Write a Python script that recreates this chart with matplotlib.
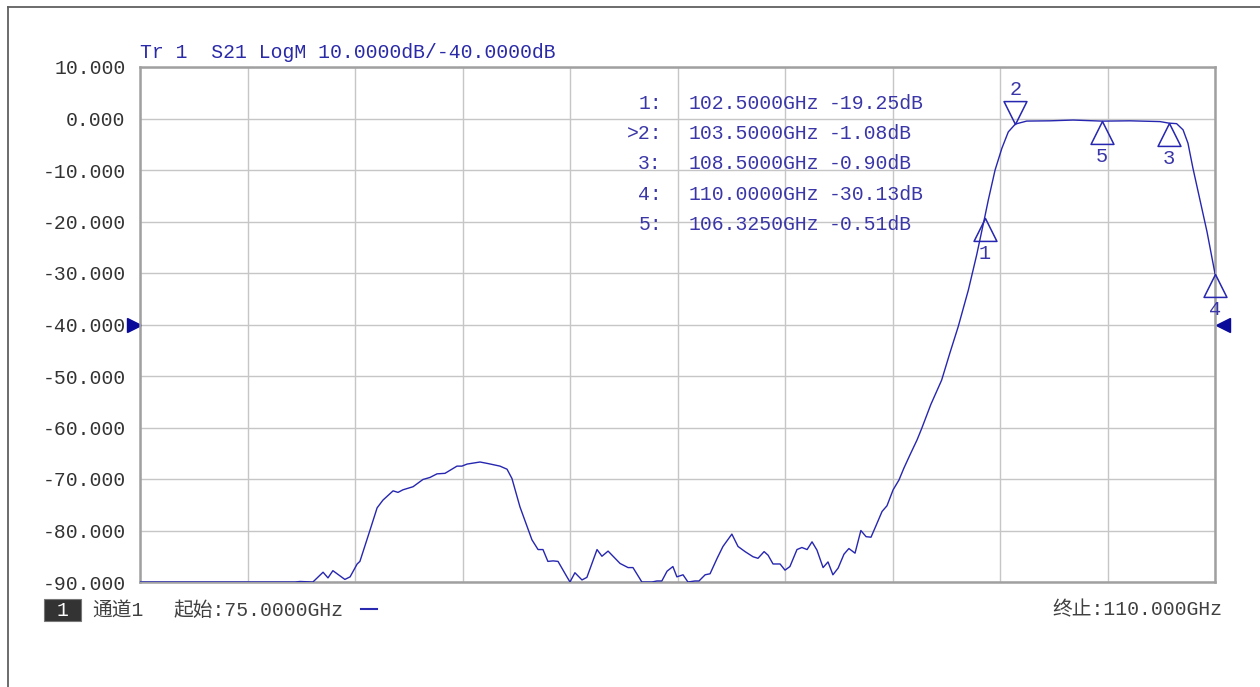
import matplotlib
matplotlib.use("Agg")
import matplotlib.pyplot as plt
from matplotlib.lines import Line2D
from matplotlib.path import Path
from matplotlib.patches import Rectangle

# S21 trace (GHz, dB)
freq_ghz = [75.0, 80.05, 80.21, 80.63, 80.96, 81.12, 81.28, 81.67, 81.84, 82.07,
            82.16, 82.49, 82.72, 82.91, 83.24, 83.40, 83.56, 83.89, 84.21, 84.44,
            84.67, 84.93, 85.32, 85.48, 85.65, 86.07, 86.33, 86.72, 86.95, 87.11,
            87.37, 87.76, 87.96, 88.12, 88.28, 88.45, 88.61, 88.90, 89.00, 89.16,
            89.39, 89.55, 89.88, 90.04, 90.24, 90.63, 90.89, 91.05, 91.34, 91.67,
            91.83, 91.99, 92.16, 92.35, 92.48, 92.68, 92.84, 93.07, 93.20, 93.40,
            93.56, 93.79, 93.98, 94.27, 94.47, 94.70, 94.96, 95.12, 95.32, 95.45,
            95.61, 95.84, 96.00, 96.16, 96.39, 96.55, 96.72, 96.88, 97.04, 97.24,
            97.40, 97.56, 97.73, 97.92, 98.08, 98.28, 98.47, 98.64, 98.80, 98.96,
            99.16, 99.32, 99.52, 99.71, 99.87, 100.07, 100.30, 100.45, 100.75, 101.10,
            101.37, 101.64, 101.97, 102.24, 102.50, 102.62, 102.84, 103.06, 103.27, 103.50,
            103.87, 104.63, 105.38, 106.33, 107.23, 108.21, 108.50, 108.75, 108.96, 109.12,
            109.28, 109.51, 109.74, 110.0]
s21_db = [-90.0, -90.0, -89.9, -90.0, -88.1, -89.2, -87.8, -89.5, -89.0, -86.5,
          -86.0, -79.9, -75.6, -74.1, -72.3, -72.6, -72.1, -71.5, -70.1, -69.7,
          -69.0, -68.9, -67.5, -67.5, -67.1, -66.7, -67.0, -67.5, -68.1, -69.9,
          -75.4, -81.8, -83.7, -83.7, -86.0, -85.9, -86.0, -89.0, -90.0, -88.2,
          -89.6, -89.1, -83.7, -85.0, -84.0, -86.4, -87.2, -87.2, -90.0, -90.0,
          -89.8, -89.8, -87.9, -87.0, -89.0, -88.6, -90.0, -89.8, -89.8, -88.6,
          -88.4, -85.4, -83.1, -80.7, -83.1, -84.1, -85.1, -85.4, -84.1, -84.8,
          -86.5, -86.5, -87.7, -87.0, -83.7, -83.3, -83.7, -82.2, -83.8, -87.2,
          -86.1, -88.6, -87.3, -84.6, -83.5, -84.4, -80.0, -81.2, -81.3, -79.1,
          -76.3, -75.2, -72.1, -70.2, -67.9, -65.3, -62.4, -60.2, -55.5, -50.8,
          -45.5, -40.4, -33.3, -26.5, -19.25, -15.8, -10.0, -5.8, -2.6, -1.08,
          -0.5, -0.45, -0.3, -0.51, -0.45, -0.6, -0.9, -1.0, -2.2, -4.8,
          -9.6, -15.8, -22.0, -30.13]

marker_ids = ["1", "2", "3", "4", "5"]
marker_freq = [102.5, 103.5, 108.5, 110.0, 106.325]
marker_db = [-19.25, -1.08, -0.90, -30.13, -0.51]
active_marker = "2"

y_ticks = [10, 0, -10, -20, -30, -40, -50, -60, -70, -80, -90]
ref_level = -40
title = "Tr 1  S21 LogM 10.0000dB/-40.0000dB"
start_text = "起始:75.0000GHz"
stop_text = "终止:110.000GHz"
channel_text = "通道1"

W, H = 1260, 687
trace_c = "#2626b0"
text_c = "#3a36a8"
mono = ["Liberation Mono", "Noto Sans CJK SC"]
fs = 14.2


def fx(x):
    return x / W


def fy(y):
    return 1 - y / H


fig = plt.figure(figsize=(W / 100, H / 100), dpi=100)
ax = fig.add_axes([fx(140), fy(582), 1075 / W, 515 / H])

ax.plot(freq_ghz, s21_db, color=trace_c, lw=1.0, zorder=3)

ax.set_xlim(75, 110)
ax.set_ylim(-90, 10)
ax.set_xticks([75 + 3.5 * i for i in range(11)])
ax.set_xticklabels([])
ax.set_yticks(y_ticks)
ax.set_yticklabels([f"{v:.3f}" for v in y_ticks], family=mono, fontsize=fs, color="#333333")
ax.tick_params(length=0, pad=10.5)
ax.grid(True, color="#c6c6c6", lw=1.0)
for s in ax.spines.values():
    s.set_color("#a0a0a0")
    s.set_linewidth(1.8)

# markers: open triangles, active one drawn upside down above the trace
up = Path([(0, 0), (-0.5, -1), (0.5, -1), (0, 0)], [1, 2, 2, 79])
down = Path([(0, 0), (-0.5, 1), (0.5, 1), (0, 0)], [1, 2, 2, 79])
for mid, f, d in zip(marker_ids, marker_freq, marker_db):
    is_active = mid == active_marker
    ax.plot([f], [d], marker=down if is_active else up, ms=33, mfc="none",
            mec=trace_c, mew=1.1, clip_on=False, zorder=4)
    ax.annotate(mid, (f, d), xytext=(0, 25 if is_active else -25.5), textcoords="offset points",
                ha="center", va="center", family=mono, fontsize=fs + 0.5, color=text_c,
                annotation_clip=False)

# reference level arrows
ax.plot([-6 / 1075], [ref_level], marker=">", ms=10, color="#0a0a9a",
        transform=ax.get_yaxis_transform(), clip_on=False)
ax.plot([1 + 8 / 1075], [ref_level], marker="<", ms=10, color="#0a0a9a",
        transform=ax.get_yaxis_transform(), clip_on=False)

# marker readout table
for i, (mid, f, d) in enumerate(zip(marker_ids, marker_freq, marker_db)):
    y = 103.5 + 30.2 * i
    lab = (">" if mid == active_marker else "") + mid + ":"
    fig.text(fx(662), fy(y), lab, ha="right", va="center", family=mono, fontsize=fs, color=text_c)
    fig.text(fx(689), fy(y), f"{f:.4f}GHz", ha="left", va="center", family=mono, fontsize=fs, color=text_c)
    fig.text(fx(829), fy(y), f"{d:.2f}dB", ha="left", va="center", family=mono, fontsize=fs, color=text_c)

fig.text(fx(140), fy(53), title, ha="left", va="center", family=mono, fontsize=fs, color="#2a2aa8")

# bottom status bar
fig.add_artist(Rectangle((fx(44), fy(621)), 37 / W, 22 / H, transform=fig.transFigure,
                         facecolor="#333333", edgecolor="#777777", lw=0.8))
fig.text(fx(62.5), fy(610), "1", ha="center", va="center", family=mono, fontsize=fs, color="white")
fig.text(fx(92), fy(610), channel_text, ha="left", va="center", family=mono, fontsize=fs, color="#404040")
fig.text(fx(173), fy(610), start_text, ha="left", va="center", family=mono, fontsize=fs, color="#404040")
fig.add_artist(Line2D([fx(361), fx(377)], [fy(609), fy(609)], transform=fig.transFigure,
                      color="#2a2ab0", lw=1.5))
fig.text(fx(1223), fy(610), stop_text, ha="right", va="center", family=mono, fontsize=fs, color="#404040")

# outer window frame
fig.add_artist(Line2D([fx(8), 1], [fy(7), fy(7)], transform=fig.transFigure, color="#606060", lw=1.3))
fig.add_artist(Line2D([fx(8), fx(8)], [fy(7), 0], transform=fig.transFigure, color="#606060", lw=1.3))

fig.savefig("out.png", dpi=100, facecolor="white")
